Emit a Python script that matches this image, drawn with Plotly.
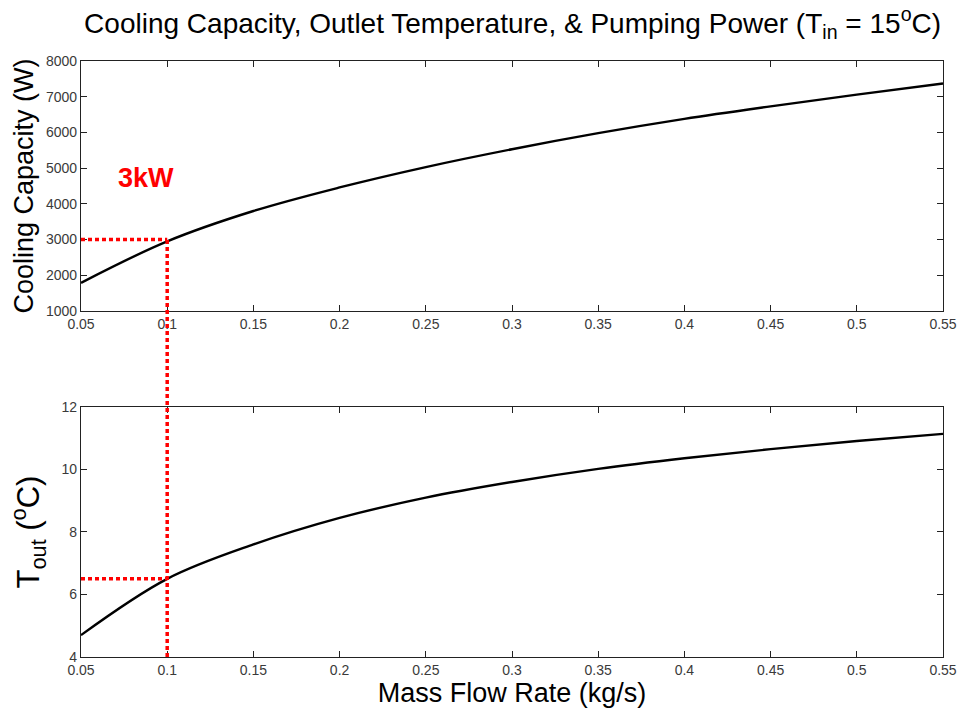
import plotly.graph_objects as go

# ---- data ----
mass_flow = [0.05, 0.10, 0.15, 0.20, 0.25, 0.30, 0.35, 0.40, 0.45, 0.50, 0.55]
cooling_capacity = [1790, 2950, 3800, 4460, 5030, 5530, 5980, 6380, 6730, 7060, 7370]
t_out = [4.7, 6.5, 7.6, 8.45, 9.1, 9.6, 10.02, 10.36, 10.65, 10.91, 11.14]

x_ticks = [0.05, 0.1, 0.15, 0.2, 0.25, 0.3, 0.35, 0.4, 0.45, 0.5, 0.55]
x_ticktext = ["0.05", "0.1", "0.15", "0.2", "0.25", "0.3", "0.35", "0.4", "0.45", "0.5", "0.55"]
q_ticks = [1000, 2000, 3000, 4000, 5000, 6000, 7000, 8000]
t_ticks = [4, 6, 8, 10, 12]

mark_x = 0.1
mark_q = 3000
mark_t = 6.5
label_q = "3kW"
label_pos = (0.0875, 4720)

x_range = [0.05, 0.55]
q_range = [1000, 8000]
t_range = [4, 12]

top_domain = [0.5805, 1.0]
bot_domain = [0.0, 0.4195]

FONT = "Liberation Sans, Arial, sans-serif"
AX = "#222222"
TICKC = "#3a3a3a"

fig = go.Figure()
fig.add_trace(go.Scatter(x=mass_flow, y=cooling_capacity, mode="lines",
                         line=dict(color="black", width=2.4, shape="spline"),
                         xaxis="x", yaxis="y", showlegend=False))
fig.add_trace(go.Scatter(x=mass_flow, y=t_out, mode="lines",
                         line=dict(color="black", width=2.4, shape="spline"),
                         xaxis="x2", yaxis="y2", showlegend=False))

red = dict(color="#ff0000", width=3.5, dash="4px,3px")
# horizontal marker lines
fig.add_shape(type="line", xref="x", yref="y", x0=x_range[0], x1=mark_x,
              y0=mark_q, y1=mark_q, line=red)
fig.add_shape(type="line", xref="x2", yref="y2", x0=x_range[0], x1=mark_x,
              y0=mark_t, y1=mark_t, line=red)
# vertical marker line spanning both panels
q_paper = top_domain[0] + (mark_q - q_range[0]) / (q_range[1] - q_range[0]) * (top_domain[1] - top_domain[0])
fig.add_shape(type="line", xref="x", yref="paper", x0=mark_x, x1=mark_x,
              y0=bot_domain[0], y1=q_paper, line=red)

fig.add_annotation(x=label_pos[0], y=label_pos[1], xref="x", yref="y", text="<b>" + label_q + "</b>",
                   showarrow=False, font=dict(color="#ff0000", size=27, family=FONT))

axis_common = dict(showline=True, linecolor=AX, linewidth=1.3, mirror="ticks",
                   ticks="inside", ticklen=6, tickcolor=AX, showgrid=False, zeroline=False,
                   tickfont=dict(size=14, color=TICKC, family=FONT))

fig.update_layout(
    width=969, height=714,
    margin=dict(l=81, r=21, t=61, b=57),
    paper_bgcolor="white", plot_bgcolor="white",
    title=dict(text="Cooling Capacity, Outlet Temperature, &amp; Pumping Power (T<sub>in</sub> = 15<sup>o</sup>C)",
               x=0.529, xanchor="center", y=0.968, yanchor="middle",
               font=dict(size=28, color="black", family=FONT)),
    xaxis=dict(domain=[0, 1], anchor="y", range=x_range, tickvals=x_ticks, ticktext=x_ticktext, **axis_common),
    yaxis=dict(domain=top_domain, anchor="x", range=q_range, tickvals=q_ticks,
               title=dict(text="Cooling Capacity (W)", font=dict(size=27, color="black", family=FONT), standoff=4),
               **axis_common),
    xaxis2=dict(domain=[0, 1], anchor="y2", range=x_range, tickvals=x_ticks, ticktext=x_ticktext,
                title=dict(text="Mass Flow Rate (kg/s)", font=dict(size=27, color="black", family=FONT), standoff=2),
                **axis_common),
    yaxis2=dict(domain=bot_domain, anchor="x2", range=t_range, tickvals=t_ticks,
                title=dict(text="T<sub>out</sub> (<sup>o</sup>C)", font=dict(size=31, color="black", family=FONT), standoff=12),
                **axis_common),
)

fig.write_html("out.html")
